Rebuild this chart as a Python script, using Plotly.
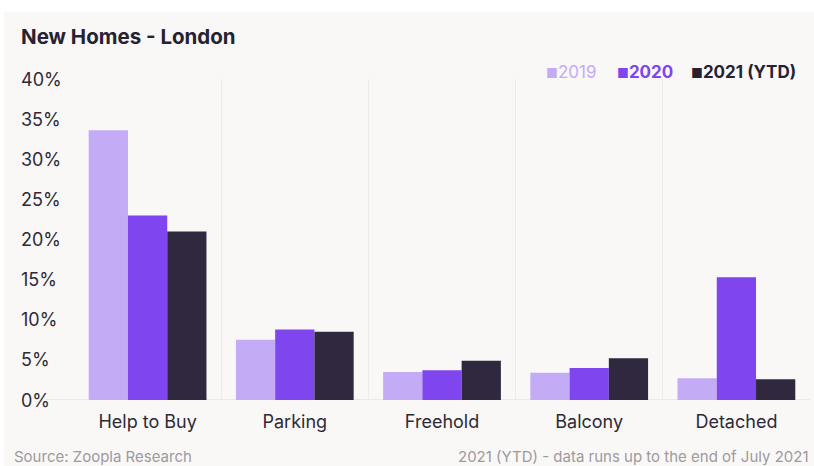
import plotly.graph_objs as go

# ---------------- Data ---------------- #
categories = ["Help to Buy", "Parking", "Freehold", "Balcony", "Detached"]
vals_2019 = [33.6, 7.5, 3.5, 3.4, 2.7]
vals_2020 = [23.0, 8.8, 3.7, 4.0, 15.3]
vals_2021 = [21.0, 8.5, 4.9, 5.2, 2.6]
y_ticks = [0, 5, 10, 15, 20, 25, 30, 35, 40]

series = [
    ("2019", vals_2019, "#c4abf6"),
    ("2020", vals_2020, "#7f45ef"),
    ("2021 (YTD)", vals_2021, "#30283f"),
]

W, H = 814, 466
ML, MR, MT, MB = 74, 4, 79, 66
PW, PH = W - ML - MR, H - MT - MB


def px_x(x):
    return (x - ML) / PW


def px_y(y):
    return (H - MB - y) / PH


FONT = "Inter"
BG = "#f9f8f7"

# ---------------- Figure ---------------- #
fig = go.Figure()

for name, vals, col in series:
    fig.add_trace(go.Bar(
        x=categories,
        y=vals,
        name=name,
        marker_color=col,
        marker_line_width=0,
        showlegend=False
    ))

annotations = []

# Title
annotations.append(dict(text="<b>New Homes - London</b>", xref="paper", yref="paper",
                        x=px_x(19), y=px_y(37), xanchor="left", yanchor="middle",
                        showarrow=False, font=dict(size=20.5, color="#262231", family=FONT)))

# Y tick labels (left aligned)
for v in y_ticks:
    annotations.append(dict(text=f"{v}%", xref="paper", yref="y", x=px_x(19), y=v,
                            xanchor="left", yanchor="middle", showarrow=False,
                            font=dict(size=18, color="#2e2a35", family=FONT)))

# Legend
legend_items = [
    ("2019", "#c4abf6", px_x(544), False),
    ("2020", "#7f45ef", px_x(615), True),
    ("2021 (YTD)", "#262231", px_x(689), True),
]
for label, col, xp, bold in legend_items:
    txt = f"<span style='font-size:13px'>■</span>" + (f"<b>{label}</b>" if bold else label)
    annotations.append(dict(text=txt, xref="paper", yref="paper", x=xp, y=px_y(72),
                            xanchor="left", yanchor="middle", showarrow=False,
                            font=dict(size=17, color=col, family=FONT)))

# Footer
annotations.append(dict(text="Source: Zoopla Research", xref="paper", yref="paper",
                        x=px_x(12), y=px_y(456), xanchor="left", yanchor="middle",
                        showarrow=False, font=dict(size=15, color="#9d9a9e", family=FONT)))
annotations.append(dict(text="2021 (YTD) - data runs up to the end of July 2021", xref="paper",
                        yref="paper", x=px_x(811), y=px_y(456), xanchor="right", yanchor="middle",
                        showarrow=False, font=dict(size=15, color="#9d9a9e", family=FONT)))

shapes = [
    # white strips at top and left edge
    dict(type="rect", xref="paper", yref="paper", x0=px_x(-2), x1=px_x(W + 2),
         y0=px_y(-2), y1=px_y(12), fillcolor="white", line_width=0, layer="below"),
    dict(type="rect", xref="paper", yref="paper", x0=px_x(-2), x1=px_x(4),
         y0=px_y(-2), y1=px_y(H + 2), fillcolor="white", line_width=0, layer="below"),
    # baseline
    dict(type="line", xref="paper", yref="y", x0=px_x(46), x1=1, y0=0, y1=0,
         line=dict(color="#e6e3e2", width=1.5), layer="below"),
]

# Stylings
fig.update_layout(
    width=W, height=H,
    font_family=FONT,
    paper_bgcolor=BG, plot_bgcolor=BG,
    margin=dict(l=ML, r=MR, t=MT, b=MB),
    barmode="group", bargap=0.2, bargroupgap=0,
    annotations=annotations, shapes=shapes,
    xaxis=dict(tickson="boundaries", showgrid=True, gridcolor="#eeebea", gridwidth=1,
               ticks="", tickfont=dict(size=18, color="#2e2a35", family=FONT),
               ticklabelstandoff=9,
               showline=False, zeroline=False, fixedrange=True),
    yaxis=dict(range=[0, 40], tickvals=y_ticks, showticklabels=False, showgrid=False,
               zeroline=False, showline=False, fixedrange=True),
)

fig.write_html("out.html", config={"displayModeBar": False},
               post_script="document.body.style.margin='0';")
